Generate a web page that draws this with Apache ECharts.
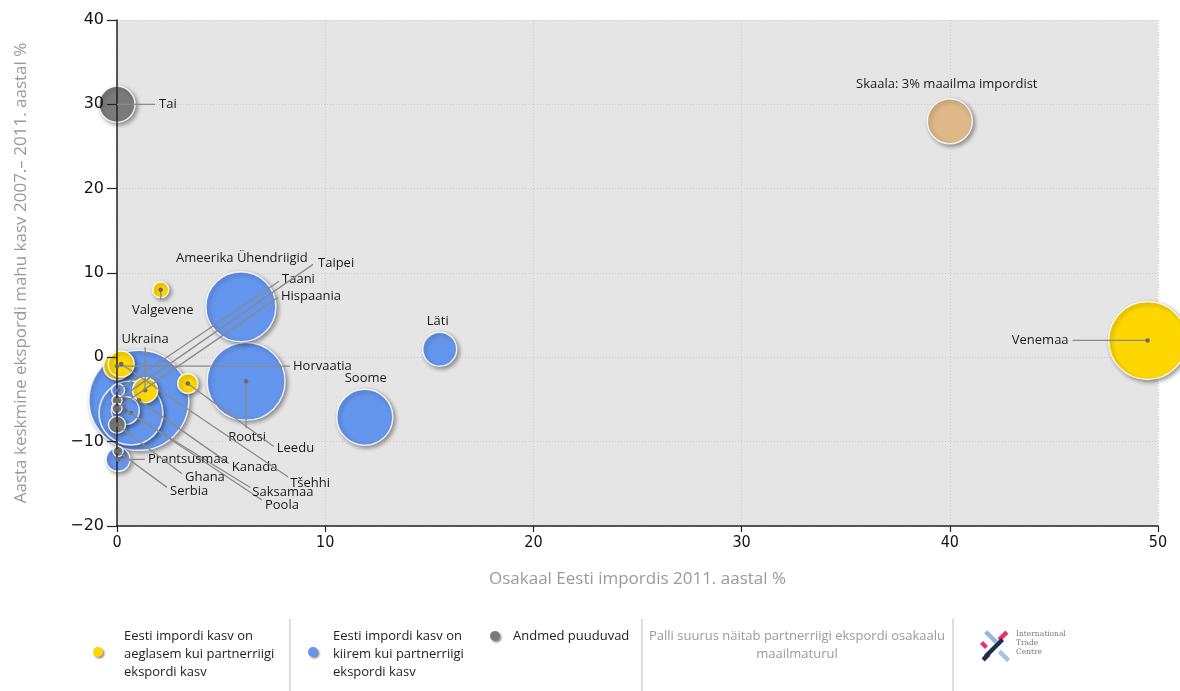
<!DOCTYPE html>
<html><head><meta charset="utf-8">
<script src="https://cdn.jsdelivr.net/npm/echarts@6/dist/echarts.min.js"></script>
<style>html,body{margin:0;padding:0;background:#fff}#c{width:1180px;height:691px}</style>
</head><body><div id="c"></div>
<script>
// ---------- DATA ----------
// x: share in Estonian imports 2011 (%), y: avg. annual export growth 2007-2011 (%), share: partner's world export share (bubble size)
const yellowNames = ['Venemaa', 'Valgevene', 'Ukraina', 'Leedu', 'Horvaatia', 'Tšehhi'];
const yellowX     = [49.5, 2.1, 1.35, 3.4, 0.0, 0.2];
const yellowY     = [2.0, 8.0, -3.9, -3.1, -1.05, -0.8];
const yellowShare = [9.0, 0.38, 0.93, 0.6, 1.08, 1.0];

const blueNames = ['Ameerika Ühendriigid', 'Rootsi', 'Soome', 'Läti', 'Kanada', 'Poola', 'Saksamaa', 'Taani', 'Prantsusmaa'];
const blueX     = [5.95, 6.2, 11.9, 15.5, 1.05, 0.67, 0.4, 0.05, 0.05];
const blueY     = [6.0, -2.85, -7.1, 0.95, -5.1, -6.6, -6.3, -3.9, -12.1];
const blueShare = [7.26, 9.0, 4.65, 1.71, 14.8, 6.07, 1.16, 0.25, 0.85];

const greyNames = ['Tai', 'Taipei', 'Hispaania', 'Ghana', 'Serbia'];
const greyX     = [0.0, 0.0, 0.0, 0.0, 0.05];
const greyY     = [30.0, -5.1, -6.05, -8.0, -11.15];
const greyShare = [1.92, 0.15, 0.15, 0.43, 0.15];

const scaleNames = ['Skaala: 3% maailma impordist'];
const scaleX     = [40];
const scaleY     = [28];
const scaleShare = [3];

const xTicks = [0, 10, 20, 30, 40, 50];
const yTicks = [-20, -10, 0, 10, 20, 30, 40];

const legendTexts = [
  'Eesti impordi kasv on\naeglasem kui partnerriigi\nekspordi kasv',
  'Eesti impordi kasv on\nkiirem kui partnerriigi\nekspordi kasv',
  'Andmed puuduvad'
];
const noteText = 'Palli suurus näitab partnerriigi ekspordi osakaalu\nmaailmaturul';
const xTitle = 'Osakaal Eesti impordis 2011. aastal %';
const yTitle = 'Aasta keskmine ekspordi mahu kasv 2007.– 2011. aastal %';

// ---------- LABEL LAYOUT (pixel offsets from bubble centre; styling only) ----------
const labelLayout = {
  'Tai': {line: [38, 0], text: [42, 0], align: 'left', noDot: true},
  'Venemaa': {line: [-75, 0], text: [-79, 0], align: 'right'},
  'Rootsi': {line: [0, 47], text: [1, 56], align: 'center'},
  'Valgevene': {line: [0, 10], text: [2, 20], align: 'center'},
  'Ukraina': {line: [0, -43], text: [0, -51], align: 'center'},
  'Leedu': {line: [86, 63], text: [89, 65], align: 'left'},
  'Horvaatia': {line: [173, 0], text: [176, 0], align: 'left'},
  'Tšehhi': {line: [167, 113], text: [169, 119], align: 'left'},
  'Saksamaa': {line: [125, 77], text: [127, 82], align: 'left'},
  'Poola': {line: [131, 87], text: [134, 92], align: 'left'},
  'Kanada': {line: [90, 63], text: [93, 67], align: 'left'},
  'Ghana': {line: [65, 49], text: [68, 52], align: 'left'},
  'Serbia': {line: [49, 36], text: [52, 40], align: 'left'},
  'Prantsusmaa': {line: [27, 0], text: [30, 0], align: 'left'},
  'Taipei': {line: [196, -136], text: [201, -137], align: 'left'},
  'Taani': {line: [161, -109], text: [164, -111], align: 'left'},
  'Hispaania': {line: [161, -111], text: [164, -112], align: 'left'},
  'Ameerika Ühendriigid': {text: [1, -48], align: 'center'},
  'Skaala: 3% maailma impordist': {text: [-3, -37], align: 'center'},
  'Soome': {text: [1, -39], align: 'center'},
  'Läti': {text: [-2, -28], align: 'center'}
};

// ---------- BUILD ----------
function pts(names, xs, ys, sh) {
  return names.map((n, i) => ({name: n, value: [xs[i], ys[i], sh[i]]}))
              .sort((a, b) => b.value[2] - a.value[2]);
}
const COLORS = {yellow: '#FFD700', blue: '#6495ED', grey: '#7a7a7a', tan: '#DEB887'};
const sizeFn = v => 25.98 * Math.sqrt(v[2]);
function bubbleSeries(name, data, color) {
  return {
    name: name, type: 'scatter', data: data, symbolSize: sizeFn, z: 3,
    itemStyle: {color: color, opacity: 1, borderColor: 'rgba(255,255,255,0.85)', borderWidth: 1.5,
      shadowColor: 'rgba(0,0,0,0.4)', shadowBlur: 4, shadowOffsetX: 2, shadowOffsetY: 2},
    emphasis: {disabled: true}
  };
}
const yellowData = pts(yellowNames, yellowX, yellowY, yellowShare);
const blueData = pts(blueNames, blueX, blueY, blueShare);
const greyData = pts(greyNames, greyX, greyY, greyShare);
const scaleData = pts(scaleNames, scaleX, scaleY, scaleShare);

const labelItems = [].concat(blueData, yellowData, greyData, scaleData)
  .filter(d => labelLayout[d.name]);

const FONT = '"Open Sans", Lato, sans-serif';

const chart = echarts.init(document.getElementById('c'), null, {renderer: 'canvas'});

function logo() {
  const bars = [
    {cx: 991, cy: 637, len: 15, rot: -Math.PI / 4, c: '#8fb7e3'},
    {cx: 1003, cy: 636, len: 11, rot: Math.PI / 4, c: '#e8336a'},
    {cx: 994, cy: 648, len: 24, rot: Math.PI / 4, c: '#1f2d50'},
    {cx: 986, cy: 657, len: 8, rot: Math.PI / 4, c: '#1f2d50'},
    {cx: 1004, cy: 656, len: 13, rot: -Math.PI / 4, c: '#a7c3e6'},
    {cx: 984, cy: 645, len: 7, rot: -Math.PI / 4, c: '#e8336a'}
  ];
  return bars.map(b => ({type: 'rect', x: b.cx, y: b.cy, rotation: b.rot,
    shape: {x: -b.len / 2, y: -2.2, width: b.len, height: 4.4}, style: {fill: b.c}}));
}

const legendDot = (x, y, c) => ({type: 'circle', shape: {cx: x, cy: y, r: 5},
  style: {fill: c, shadowColor: 'rgba(0,0,0,0.45)', shadowBlur: 2, shadowOffsetX: 1.5, shadowOffsetY: 1.5}});
const legendTxt = (x, y, t, c, align) => ({type: 'text', x: x, y: y,
  style: {text: t, fill: c || '#222', font: '13px ' + FONT, lineHeight: 18, align: align || 'left', verticalAlign: 'top'}});

const option = {
  animation: false,
  backgroundColor: '#fff',
  grid: {left: 117, right: 22, top: 20, bottom: 165, show: true, backgroundColor: '#e5e5e5', borderWidth: 0},
  xAxis: {
    type: 'value', min: xTicks[0], max: xTicks[xTicks.length - 1], interval: 10,
    name: xTitle, nameLocation: 'middle', nameGap: 45,
    nameTextStyle: {color: '#9a9a9a', fontSize: 17, fontFamily: FONT},
    axisLine: {show: true, onZero: false, lineStyle: {color: '#222', width: 1.5}},
    axisTick: {show: true, length: 6, lineStyle: {color: '#222', width: 1.2}},
    axisLabel: {color: '#111', fontSize: 16, fontFamily: '"DejaVu Sans Condensed", "DejaVu Sans", sans-serif', margin: 9},
    splitLine: {show: true, lineStyle: {color: '#cdcdcd', type: [1, 2], width: 1}}
  },
  yAxis: [{
    type: 'value', min: yTicks[0], max: yTicks[yTicks.length - 1], interval: 10,
    axisLine: {show: false}, axisTick: {show: false}, axisLabel: {show: false},
    splitLine: {show: true, lineStyle: {color: '#cdcdcd', type: [1, 2], width: 1}}
  }, {
    type: 'value', min: yTicks[0], max: yTicks[yTicks.length - 1], interval: 10, position: 'left', z: 10,
    name: yTitle, nameLocation: 'middle', nameGap: 87, nameRotate: 90,
    nameTextStyle: {color: '#9a9a9a', fontSize: 17, fontFamily: FONT},
    axisLine: {show: true, onZero: false, lineStyle: {color: '#222', width: 1.5}},
    axisTick: {show: true, length: 10, lineStyle: {color: '#222', width: 1.2}},
    axisLabel: {color: '#111', fontSize: 16, fontFamily: '"DejaVu Sans", sans-serif', margin: 13,
      formatter: v => String(v).replace('-', '\u2212')},
    splitLine: {show: false}
  }],
  series: [
    bubbleSeries(legendTexts[1], blueData, COLORS.blue),
    bubbleSeries(legendTexts[0], yellowData, COLORS.yellow),
    bubbleSeries(legendTexts[2], greyData, COLORS.grey),
    bubbleSeries('Skaala', scaleData, COLORS.tan),
    {
      type: 'custom', z: 20, silent: true, clip: false,
      data: labelItems.map(d => ({name: d.name, value: [d.value[0], d.value[1]]})),
      renderItem: function (params, api) {
        const name = labelItems[params.dataIndex].name;
        const L = labelLayout[name];
        const p = api.coord([api.value(0), api.value(1)]);
        const ch = [];
        if (L.line) {
          ch.push({type: 'line', shape: {x1: p[0], y1: p[1], x2: p[0] + L.line[0], y2: p[1] + L.line[1]},
            style: {stroke: '#8a8a8a', lineWidth: 1.3}});
          if (!L.noDot) ch.push({type: 'circle', shape: {cx: p[0], cy: p[1], r: 2.3}, style: {fill: '#6b6b6b'}});
        }
        ch.push({type: 'text', x: p[0] + L.text[0], y: p[1] + L.text[1],
          style: {text: name, fill: '#1a1a1a', font: '13px ' + FONT, align: L.align, verticalAlign: 'middle'}});
        return {type: 'group', children: ch};
      }
    }
  ],
  graphic: [].concat(
    [0, 1, 2].map(i => ({type: 'line', shape: {x1: [290, 642, 953][i], y1: 619, x2: [290, 642, 953][i], y2: 691},
      style: {stroke: '#bdbdbd', lineWidth: 1}})),
    [legendDot(98, 652, COLORS.yellow), legendTxt(124, 627, legendTexts[0]),
     legendDot(313, 652, COLORS.blue), legendTxt(333, 627, legendTexts[1]),
     legendDot(495, 636, COLORS.grey), legendTxt(513, 627, legendTexts[2]),
     legendTxt(797, 627, noteText, '#9a9a9a', 'center'),
     {type: 'text', x: 1016, y: 630, style: {text: 'International\nTrade\nCentre', fill: '#7a7a7a',
       font: '7.5px "DejaVu Serif", serif', lineHeight: 9, verticalAlign: 'top'}}],
    logo()
  )
};
chart.setOption(option);
</script>
</body></html>
